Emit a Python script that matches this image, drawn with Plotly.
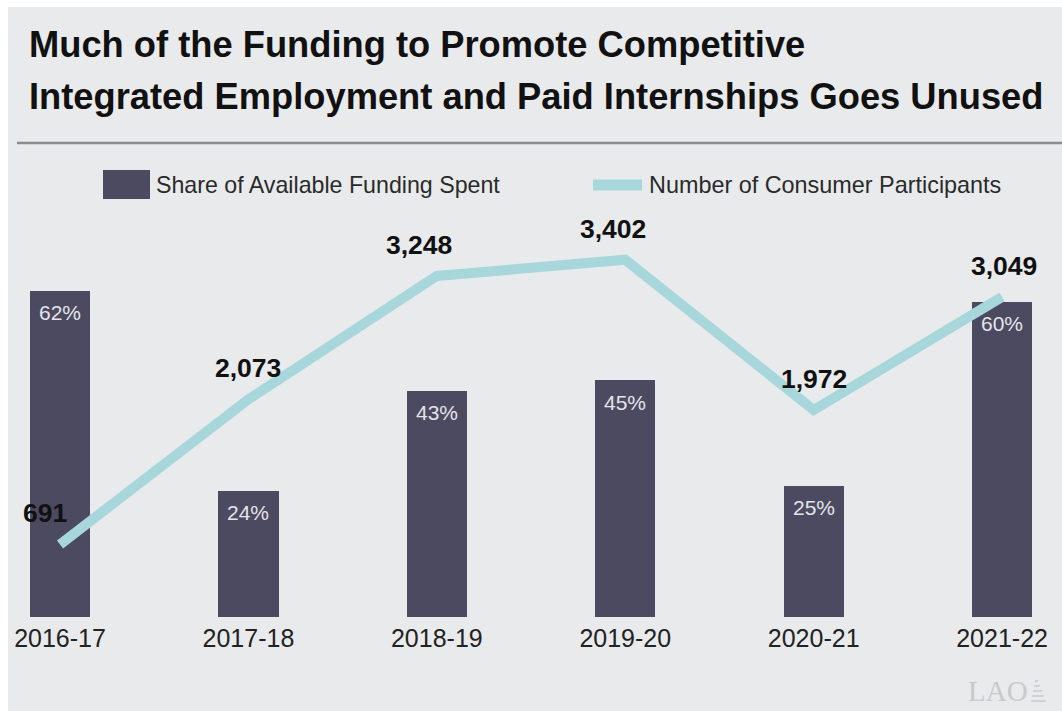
import plotly.graph_objects as go

# Fiscal years and the two series shown
years = ["2016-17", "2017-18", "2018-19", "2019-20", "2020-21", "2021-22"]
share_spent = [62, 24, 43, 45, 25, 60]              # percent of available funding spent
participants = [691, 2073, 3248, 3402, 1972, 3049]  # number of consumer participants

W, H = 1062, 711
PLOT_TOP, PLOT_BOTTOM = 210, 617
BG = "#e9eaec"
BAR = "#4b4a60"
LINE = "#a7d7db"
FONT = "Liberation Sans, Arial, Helvetica, sans-serif"


def py(p):
    """pixel row -> paper y"""
    return (PLOT_BOTTOM - p) / (PLOT_BOTTOM - PLOT_TOP)


def px(p):
    """pixel column -> paper x"""
    return p / W


fig = go.Figure()

fig.add_trace(go.Bar(
    x=years, y=share_spent, width=0.32,
    marker=dict(color=BAR, line_width=0),
    hoverinfo="skip", showlegend=False,
))
fig.add_trace(go.Scatter(
    x=years, y=participants, yaxis="y2", mode="lines",
    line=dict(color=LINE, width=10),
    hoverinfo="skip", showlegend=False,
))

annotations = []

# percentage labels inside the bars, near the top
for yr, v in zip(years, share_spent):
    annotations.append(dict(
        x=yr, y=v, xref="x", yref="y", text=f"{v}%", showarrow=False,
        yshift=-22, font=dict(family=FONT, size=21, color="#e4e4ea"),
    ))

# participant counts above the line
label_dx = [-15, 0, -18, -12, 0, 2]
for yr, v, dx in zip(years, participants, label_dx):
    annotations.append(dict(
        x=yr, y=v, xref="x", yref="y2", text=f"<b>{v:,}</b>", showarrow=False,
        yshift=31, xshift=dx, font=dict(family=FONT, size=26.5, color="#111111"),
    ))

# title
annotations += [
    dict(x=px(27), y=py(45), xref="paper", yref="paper", xanchor="left", yanchor="middle",
         text="<b>Much of the Funding to Promote Competitive</b>", showarrow=False,
         font=dict(family=FONT, size=36.3, color="#111111")),
    dict(x=px(27), y=py(96), xref="paper", yref="paper", xanchor="left", yanchor="middle",
         text="<b>Integrated Employment and Paid Internships Goes Unused</b>", showarrow=False,
         font=dict(family=FONT, size=36.3, color="#111111")),
]

# legend labels and footer mark
annotations += [
    dict(x=px(154), y=py(185), xref="paper", yref="paper", xanchor="left", yanchor="middle",
         text="Share of Available Funding Spent", showarrow=False,
         font=dict(family=FONT, size=23.2, color="#2a2a2a")),
    dict(x=px(647), y=py(185), xref="paper", yref="paper", xanchor="left", yanchor="middle",
         text="Number of Consumer Participants", showarrow=False,
         font=dict(family=FONT, size=23.4, color="#2a2a2a")),
    dict(x=px(1030), y=py(691), xref="paper", yref="paper", xanchor="right", yanchor="middle",
         text="LAO", showarrow=False,
         font=dict(family="Liberation Serif, DejaVu Serif, serif", size=29, color="#c9c9cc")),
]

shapes = [
    # white page edges
    dict(type="rect", xref="paper", yref="paper", x0=px(0), x1=px(8), y0=py(H), y1=py(0),
         fillcolor="white", line_width=0, layer="below"),
    dict(type="rect", xref="paper", yref="paper", x0=px(0), x1=px(W), y0=py(7), y1=py(0),
         fillcolor="white", line_width=0, layer="below"),
    # rule under the title
    dict(type="line", xref="paper", yref="paper", x0=px(17), x1=px(W), y0=py(143), y1=py(143),
         line=dict(color="#8c8c8e", width=2.5)),
    # legend swatches
    dict(type="rect", xref="paper", yref="paper", x0=px(103), x1=px(150), y0=py(199), y1=py(170),
         fillcolor=BAR, line_width=0),
    dict(type="line", xref="paper", yref="paper", x0=px(593), x1=px(642), y0=py(185), y1=py(185),
         line=dict(color=LINE, width=11)),
    # small stepped emblem beside the footer mark
    dict(type="path", xref="paper", yref="paper",
         path=(f"M {px(1031)},{py(701)} L {px(1046)},{py(701)} "
               f"M {px(1032)},{py(696)} L {px(1044)},{py(696)} "
               f"M {px(1033)},{py(691)} L {px(1042)},{py(691)} "
               f"M {px(1034)},{py(686)} L {px(1040)},{py(686)} "
               f"M {px(1035)},{py(681)} L {px(1038)},{py(681)}"),
         line=dict(color="#c9c9cc", width=1.5)),
]

fig.update_layout(
    width=W, height=H,
    margin=dict(l=0, r=0, t=PLOT_TOP, b=H - PLOT_BOTTOM, pad=0),
    paper_bgcolor=BG, plot_bgcolor=BG,
    font=dict(family=FONT),
    showlegend=False,
    xaxis=dict(type="category", range=[-0.3185, 5.318], showgrid=False, showline=False,
               zeroline=False, ticks="", ticklabelstandoff=4,
               tickfont=dict(family=FONT, size=25, color="#222222"),
               fixedrange=True),
    yaxis=dict(range=[0, 77.4], visible=False, fixedrange=True),
    yaxis2=dict(range=[0, 3876], overlaying="y", side="right", visible=False, fixedrange=True),
    bargap=0,
    annotations=annotations,
    shapes=shapes,
)

fig.write_html("out.html")
